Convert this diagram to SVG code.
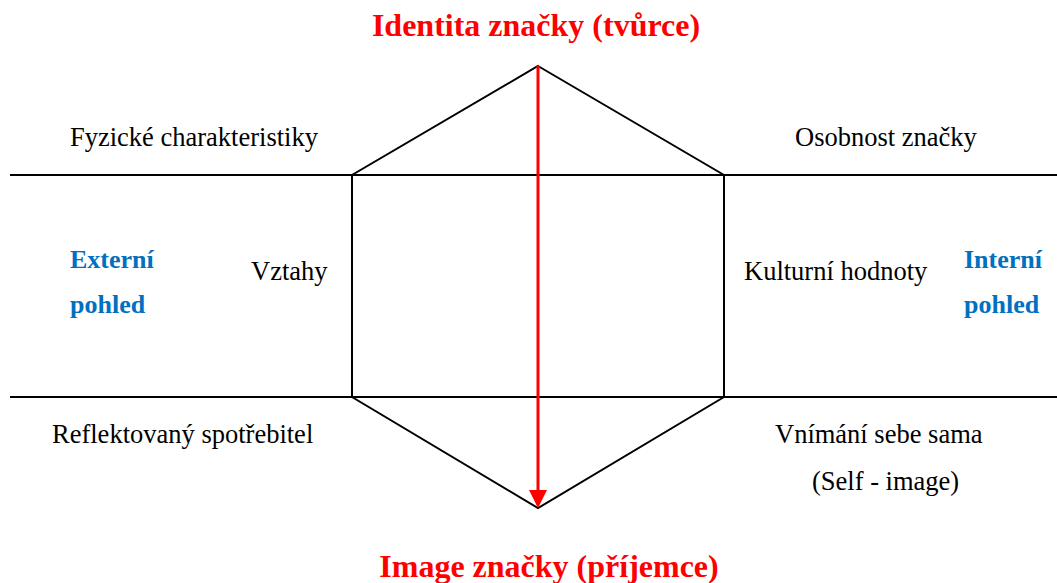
<svg xmlns="http://www.w3.org/2000/svg" width="1057" height="583" viewBox="0 0 1057 583">
  <style>
    .title { font-family: "Liberation Serif", "Times New Roman", serif; font-weight: bold; font-size: 32px; fill: #ff0000; text-anchor: middle; }
    .label { font-family: "Liberation Serif", "Times New Roman", serif; font-size: 26.5px; fill: #000000; }
    .view { font-family: "Liberation Serif", "Times New Roman", serif; font-weight: bold; font-size: 26px; fill: #0070c0; }
    .line { stroke: #000000; stroke-width: 2; fill: none; }
  </style>
  <defs>
    <marker id="arrowhead" markerWidth="6" markerHeight="6" refX="5" refY="3" orient="auto" markerUnits="strokeWidth">
      <path d="M0,0 L6,3 L0,6 Z" fill="#ff0000"/>
    </marker>
  </defs>
  <rect width="1057" height="583" fill="#ffffff"/>

  <g id="connectors">
    <line class="line" x1="10" y1="175" x2="1057" y2="175"/>
    <line class="line" x1="10" y1="397" x2="1057" y2="397"/>
    <polygon class="line" points="538,66 724,175 724,397 538,508 352,397 352,175"/>
    <line x1="538" y1="66" x2="538" y2="505" stroke="#ff0000" stroke-width="3" marker-end="url(#arrowhead)"/>
  </g>

  <g id="identita"><text class="title" x="536" y="36">Identita značky (tvůrce)</text></g>
  <g id="image"><text class="title" x="549" y="577">Image značky (příjemce)</text></g>

  <g id="fyzicke"><text class="label" x="70" y="146">Fyzické charakteristiky</text></g>
  <g id="osobnost"><text class="label" x="795" y="146">Osobnost značky</text></g>
  <g id="vztahy"><text class="label" x="251" y="280">Vztahy</text></g>
  <g id="kulturni"><text class="label" x="744" y="280">Kulturní hodnoty</text></g>
  <g id="reflektovany"><text class="label" x="52" y="443">Reflektovaný spotřebitel</text></g>
  <g id="vnimani">
    <text class="label" x="775" y="443">Vnímání sebe sama</text>
    <text class="label" x="812" y="490">(Self - image)</text>
  </g>

  <g id="externi">
    <text class="view" x="70" y="268">Externí</text>
    <text class="view" x="70" y="313">pohled</text>
  </g>
  <g id="interni">
    <text class="view" x="964" y="268">Interní</text>
    <text class="view" x="964" y="313">pohled</text>
  </g>
</svg>
